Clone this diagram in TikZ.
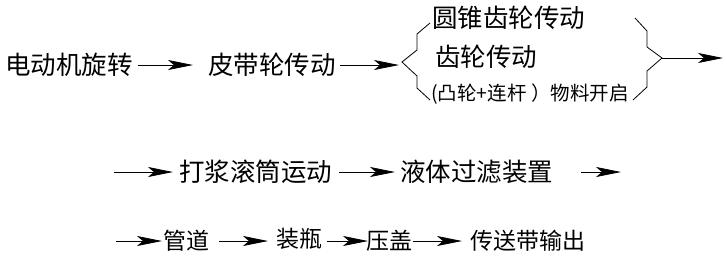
\documentclass[tikz,border=0pt]{standalone}
\usepackage{fontspec}
\setmainfont{Noto Sans CJK SC}
\usetikzlibrary{positioning, arrows.meta, calc}

\begin{document}
\begin{tikzpicture}[x=1pt, y=-1pt, line width=0.8pt,
		>={Stealth[length=25pt, width=10pt, inset=6pt]},
		etapa/.style={inner sep=0pt, anchor=west, font=\fontsize{25.5}{25.5}\selectfont},
		etapachica/.style={etapa, font=\fontsize{23}{23}\selectfont},
		nota/.style={etapa, font=\fontsize{19.5}{19.5}\selectfont}]
		
		% Marco de la figura
		\useasboundingbox (0,0) rectangle (727,269);
		
		% Filas (posición vertical)
		\def\yA{65}
		\def\yB{172}
		\def\yC{241}
		
		% --- 1. PRIMERA FILA ---
		\node[etapa] (motor) at (5,\yA) {电动机旋转};
		\node[etapa] (correa) at (208,\yA) {皮带轮传动};
		
		% Alternativas dentro de las llaves
		\node[etapa] (conico) at (432,18) {圆锥齿轮传动};
		\node[etapa] (engranaje) at (435,57) {齿轮传动};
		\node[nota] (leva) at (431,94) {(凸轮+连杆 ）物料开启};
		
		% Llave izquierda
		\coordinate (llaveIzq) at (402,62);
		\draw (430,23) -- (417,34) -- (417,50) -- (llaveIzq) -- (417,76) -- (417,88) -- (430,100);
		
		% Llave derecha
		\coordinate (llaveDer) at (662,58);
		\draw (635,18) -- (647,31) -- (647,47) -- (llaveDer) -- (647,71) -- (647,87) -- (633,100);
		
		\coordinate (fin1) at (723,58);
		
		\draw[->, shorten <=5pt, shorten >=15pt] (motor.east) -- (correa.west);
		\draw[->, shorten <=4pt, shorten >=3pt] (correa.east) -- (llaveIzq |- correa.east);
		\draw[->] (llaveDer) -- (fin1);
		
		% --- 2. SEGUNDA FILA ---
		\coordinate (ini2) at (114,\yB);
		\node[etapa] (batido) at (179,\yB) {打浆滚筒运动};
		\node[etapa] (filtro) at (400,\yB) {液体过滤装置};
		\coordinate (fin2) at (621,\yB);
		
		\draw[->, shorten >=6pt] (ini2) -- (batido.west);
		\draw[->, shorten <=6pt, shorten >=5pt] (batido.east) -- (filtro.west);
		\draw[->, shorten <=27pt] (filtro.east) -- (fin2);
		
		% --- 3. TERCERA FILA ---
		\coordinate (ini3) at (116,\yC);
		\node[etapachica] (tubo) at (163,\yC) {管道};
		\node[etapachica] (envase) at (276,\yC-2) {装瓶};
		\node[etapachica] (tapa) at (366,\yC) {压盖};
		\node[etapachica] (salida) at (470,\yC) {传送带输出};
		
		\draw[->, shorten >=1pt] (ini3) -- (tubo.west);
		\draw[->, shorten <=9pt, shorten >=8pt] (tubo.east) -- (envase.west |- tubo.east);
		\draw[->, shorten <=4pt, shorten >=-2pt] (envase.east |- tapa.west) -- (tapa.west);
		\draw[->, shorten >=8pt] (tapa.east) -- (salida.west);
		
	\end{tikzpicture}
\end{document}
